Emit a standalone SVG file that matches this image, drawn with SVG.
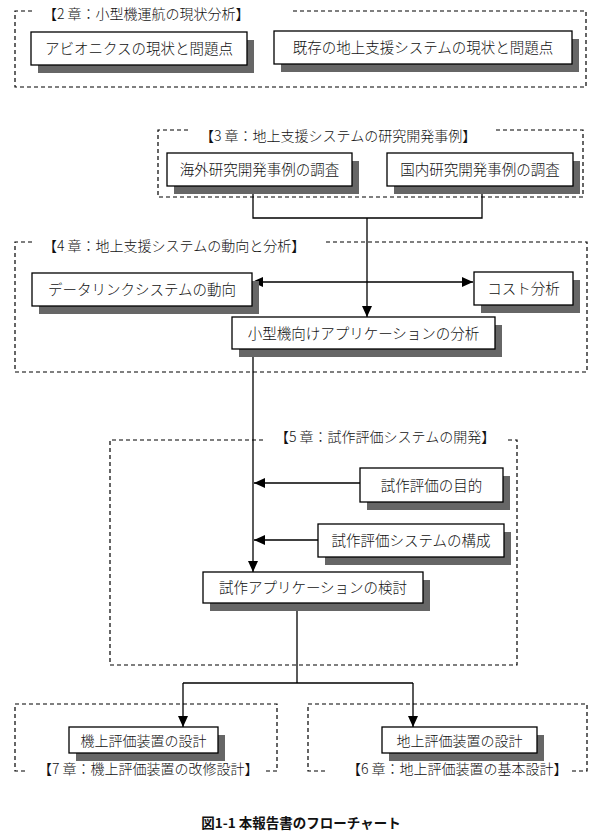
<svg xmlns="http://www.w3.org/2000/svg" width="600" height="834" viewBox="0 0 600 834">
<style>
.grp{fill:none;stroke:#000;stroke-width:1.2;stroke-dasharray:4 3}
.box{fill:#fff;stroke:#000;stroke-width:1.3}
.sh{fill:#666}
.t{font-family:"Noto Sans CJK JP","Noto Sans CJK SC",sans-serif;font-size:14.5px;font-weight:300;fill:#111;text-anchor:middle}
.ttl{font-family:"Noto Sans CJK JP","Noto Sans CJK SC",sans-serif;font-size:14px;font-weight:300;fill:#111}
.ln{fill:none;stroke:#000;stroke-width:1.3}
.cap{font-family:"Noto Sans CJK JP","Noto Sans CJK SC",sans-serif;font-size:13.5px;font-weight:bold;fill:#111;text-anchor:middle}
</style>
<defs>
<marker id="ah" markerUnits="userSpaceOnUse" markerWidth="12" markerHeight="11" refX="11" refY="5" orient="auto-start-reverse">
<path d="M0,0 L11,5 L0,10 z" fill="#000"/>
</marker>
</defs>
<rect width="600" height="834" fill="#fff"/>

<g id="chapter2">
<path class="grp" d="M32,11 H15 V87 H586 V11 H293"/>
<text class="ttl" x="43" y="19">【2 章：小型機運航の現状分析】</text>
</g>
<g id="chapter3">
<path class="grp" d="M188,130 H158 V197 H583 V130 H495"/>
<text class="ttl" x="200" y="141">【3 章：地上支援システムの研究開発事例】</text>
</g>
<g id="chapter4">
<path class="grp" d="M32,242 H15 V372 H587 V242 H325"/>
<text class="ttl" x="43" y="251">【4 章：地上支援システムの動向と分析】</text>
</g>
<g id="chapter5">
<path class="grp" d="M263,440 H110 V665 H517 V440 H505"/>
<text class="ttl" x="275" y="442">【5 章：試作評価システムの開発】</text>
</g>
<g id="chapter7">
<path class="grp" d="M25,771 H15 V704 H277 V771 H265"/>
<text class="ttl" x="38" y="774">【7 章：機上評価装置の改修設計】</text>
</g>
<g id="chapter6">
<path class="grp" d="M325,771 H308 V704 H587 V771 H572"/>
<text class="ttl" x="347" y="774">【6 章：地上評価装置の基本設計】</text>
</g>

<g id="connectors">
<path class="ln" d="M253,186 V218 H482 V186"/>
<path class="ln" d="M367,218 V317" marker-end="url(#ah)"/>
<path class="ln" d="M252,282 H473" marker-start="url(#ah)" marker-end="url(#ah)"/>
<path class="ln" d="M253,349 V572" marker-end="url(#ah)"/>
<path class="ln" d="M360,483 H254" marker-end="url(#ah)"/>
<path class="ln" d="M318,540 H254" marker-end="url(#ah)"/>
<path class="ln" d="M297,603 V683"/>
<path class="ln" d="M183,683 H413"/>
<path class="ln" d="M183,683 V727" marker-end="url(#ah)"/>
<path class="ln" d="M413,683 V727" marker-end="url(#ah)"/>
</g>

<g id="avionics">
<rect class="sh" x="38" y="40" width="216" height="33"/>
<rect class="box" x="31" y="32" width="216" height="33"/>
<text class="t" x="139" y="54">アビオニクスの現状と問題点</text>
</g>
<g id="existing-ground">
<rect class="sh" x="281" y="39" width="298" height="33"/>
<rect class="box" x="274" y="31" width="298" height="33"/>
<text class="t" x="423" y="53">既存の地上支援システムの現状と問題点</text>
</g>
<g id="overseas">
<rect class="sh" x="174" y="161" width="185" height="33"/>
<rect class="box" x="167" y="153" width="185" height="33"/>
<text class="t" x="259.5" y="175">海外研究開発事例の調査</text>
</g>
<g id="domestic">
<rect class="sh" x="394" y="161" width="186" height="33"/>
<rect class="box" x="387" y="153" width="186" height="33"/>
<text class="t" x="480" y="175">国内研究開発事例の調査</text>
</g>
<g id="datalink">
<rect class="sh" x="39" y="281" width="220" height="33"/>
<rect class="box" x="32" y="273" width="220" height="33"/>
<text class="t" x="142" y="295">データリンクシステムの動向</text>
</g>
<g id="cost">
<rect class="sh" x="481" y="280" width="99" height="33"/>
<rect class="box" x="474" y="272" width="99" height="33"/>
<text class="t" x="523.5" y="294">コスト分析</text>
</g>
<g id="small-app">
<rect class="sh" x="239" y="325" width="263" height="32"/>
<rect class="box" x="232" y="317" width="263" height="32"/>
<text class="t" x="363.5" y="338.5">小型機向けアプリケーションの分析</text>
</g>
<g id="purpose">
<rect class="sh" x="367" y="476" width="143" height="34"/>
<rect class="box" x="360" y="468" width="143" height="34"/>
<text class="t" x="431.5" y="490.5">試作評価の目的</text>
</g>
<g id="config">
<rect class="sh" x="325" y="532" width="186" height="33"/>
<rect class="box" x="318" y="524" width="186" height="33"/>
<text class="t" x="411" y="546">試作評価システムの構成</text>
</g>
<g id="proto-app">
<rect class="sh" x="210" y="580" width="220" height="31"/>
<rect class="box" x="203" y="572" width="220" height="31"/>
<text class="t" x="313" y="593">試作アプリケーションの検討</text>
</g>
<g id="onboard">
<rect class="sh" x="76" y="735" width="149" height="26"/>
<rect class="box" x="69" y="727" width="149" height="26"/>
<text class="t" x="143.5" y="745.5" style="font-size:14px">機上評価装置の設計</text>
</g>
<g id="ground">
<rect class="sh" x="389" y="735" width="155" height="26"/>
<rect class="box" x="382" y="727" width="155" height="26"/>
<text class="t" x="459.5" y="745.5" style="font-size:14px">地上評価装置の設計</text>
</g>

<text class="cap" x="301" y="828">図1-1 本報告書のフローチャート</text>
</svg>
